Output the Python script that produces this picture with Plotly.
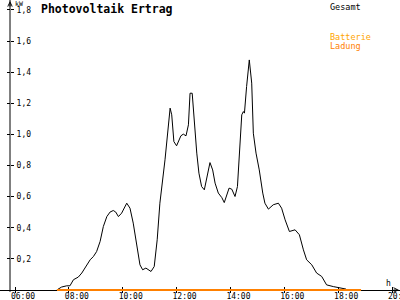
import plotly.graph_objects as go

# ---- data ----
hours = [7.55, 7.73, 7.92, 8.04, 8.17, 8.35, 8.48, 8.60, 8.79, 8.91, 9.03, 9.16, 9.28,
         9.41, 9.53, 9.65, 9.74, 9.84, 9.96, 10.15, 10.27, 10.39, 10.52, 10.64, 10.74,
         10.86, 11.05, 11.17, 11.28, 11.38, 11.57, 11.66, 11.76, 11.82, 11.90, 12.00,
         12.16, 12.25, 12.35, 12.44, 12.50, 12.58, 12.65, 12.75, 12.83, 12.93, 13.03,
         13.14, 13.24, 13.34, 13.43, 13.55, 13.68, 13.77, 13.86, 13.95, 14.05, 14.17,
         14.26, 14.33, 14.42, 14.48, 14.52, 14.60, 14.70, 14.79, 14.85, 14.95, 15.07,
         15.20, 15.28, 15.41, 15.59, 15.78, 15.90, 16.03, 16.19, 16.40, 16.56, 16.71,
         16.83, 17.02, 17.20, 17.39, 17.57, 17.82, 18.07, 18.29]
gesamt_kw = [0.00, 0.019, 0.027, 0.027, 0.066, 0.083, 0.109, 0.141, 0.194, 0.215, 0.247,
             0.312, 0.408, 0.472, 0.501, 0.511, 0.501, 0.472, 0.494, 0.558, 0.526, 0.430,
             0.280, 0.162, 0.130, 0.141, 0.119, 0.151, 0.323, 0.558, 0.837, 0.986, 1.169,
             1.126, 0.954, 0.927, 0.991, 1.002, 0.991, 1.062, 1.265, 1.265, 1.094, 0.880,
             0.751, 0.665, 0.644, 0.740, 0.819, 0.772, 0.687, 0.623, 0.594, 0.562, 0.612,
             0.655, 0.648, 0.601, 0.665, 0.858, 1.126, 1.147, 1.137, 1.308, 1.479, 1.330,
             1.008, 0.880, 0.772, 0.623, 0.558, 0.520, 0.548, 0.558, 0.526, 0.451, 0.376,
             0.387, 0.355, 0.258, 0.194, 0.162, 0.109, 0.087, 0.033, 0.022, 0.016, 0.006]
batterie_hours = [7.56, 18.85]
batterie_kw = [0.0, 0.0]

x_tickvals = [6, 8, 10, 12, 14, 16, 18, 20]
x_ticktext = ["06:00", "08:00", "10:00", "12:00", "14:00", "16:00", "18:00", "20:00"]
y_tickvals = [0.2, 0.4, 0.6, 0.8, 1.0, 1.2, 1.4, 1.6, 1.8]

title = "Photovoltaik Ertrag"
series_gesamt = "Gesamt"
series_batt = ["Batterie", "Ladung"]

# ---- layout geometry ----
W, H = 400, 300
px_per_h = 26.93
x0 = 6 - 15 / px_per_h
x1 = x0 + W / px_per_h
px_per_kw = 155.56
y1 = 290 / px_per_kw
y0 = -10 / px_per_kw
XR = [x0, x1]
YR = [y0, y1]
xpos = 10 / H
ypos = 10 / W

MONO = "DejaVu Sans Mono"

fig = go.Figure()
fig.add_trace(go.Scatter(x=hours, y=gesamt_kw, mode="lines", name=series_gesamt,
                         line=dict(color="black", width=1), showlegend=False))
fig.add_trace(go.Scatter(x=batterie_hours, y=batterie_kw, mode="lines",
                         name=" ".join(series_batt),
                         line=dict(color="#FF8000", width=2), showlegend=False))

axis_common = dict(showgrid=False, zeroline=False, automargin=False)
fig.update_layout(
    template="none",
    width=W, height=H,
    margin=dict(l=0, r=0, t=0, b=0, autoexpand=False),
    paper_bgcolor="white", plot_bgcolor="white",
    separators=",.",
    showlegend=False,
    xaxis=dict(range=XR, anchor="free", position=xpos, showline=True, linecolor="black",
               linewidth=1, tickmode="array", tickvals=x_tickvals, ticktext=x_ticktext,
               ticks="outside", ticklen=2, tickcolor="black", tickwidth=1,
               ticklabelshift=8, ticklabelstandoff=-4, ticklabeloverflow="allow",
               layer="below traces",
               tickfont=dict(family=MONO, size=8, color="black"), **axis_common),
    xaxis2=dict(range=XR, overlaying="x", anchor="free", position=xpos, side="bottom",
                tickmode="array", tickvals=x_tickvals, ticks="inside", ticklen=3,
                tickcolor="black", showticklabels=False, showline=False,
                layer="below traces", **axis_common),
    yaxis=dict(range=YR, anchor="free", position=ypos, side="right", showline=False,
               tickmode="array", tickvals=y_tickvals, tickformat=".1f",
               ticks="outside", ticklen=3, tickcolor="black", tickwidth=1,
               ticklabelstandoff=1,
               tickfont=dict(family=MONO, size=8, color="black"), **axis_common),
    yaxis2=dict(range=YR, overlaying="y", anchor="free", position=ypos, side="right",
                tickmode="array", tickvals=y_tickvals, ticks="inside", ticklen=3,
                tickcolor="black", showticklabels=False, showline=False, **axis_common),
)
# dummy trace to activate overlay axes
fig.add_trace(go.Scatter(x=[x_tickvals[0]], y=[y_tickvals[0]], xaxis="x2", yaxis="y2",
                         mode="markers", marker=dict(opacity=0), hoverinfo="skip",
                         showlegend=False))

# y axis line
fig.add_shape(type="line", xref="paper", yref="y", x0=ypos, x1=ypos, y0=-0.012, y1=YR[1],
              line=dict(color="black", width=1))

# axis arrows
fig.add_annotation(xref="paper", yref="paper", x=1, y=xpos, ax=-8, ay=0, text="",
                   showarrow=True, arrowhead=5, arrowsize=0.9, arrowwidth=1,
                   arrowcolor="black")
fig.add_annotation(xref="paper", yref="paper", x=ypos, y=1, ax=0, ay=8, text="",
                   showarrow=True, arrowhead=5, arrowsize=0.9, arrowwidth=1,
                   arrowcolor="black")

# unit labels
fig.add_annotation(xref="paper", yref="paper", x=13 / W, y=1 + 2 / H, xanchor="left",
                   yanchor="top", text="kW", showarrow=False,
                   font=dict(family=MONO, size=6.5, color="black"))
fig.add_annotation(xref="paper", yref="paper", x=388 / W, y=1 - 277 / H, xanchor="center",
                   yanchor="top", text="h", showarrow=False,
                   font=dict(family=MONO, size=8, color="black"))

# title
fig.add_annotation(xref="paper", yref="paper", x=39 / W, y=1 - 0 / H, xanchor="left",
                   yanchor="top", text="<b>" + title + "</b>", showarrow=False,
                   font=dict(family=MONO, size=11.5, color="black"))

# legend labels
fig.add_annotation(xref="paper", yref="paper", x=328 / W, y=1 - 0 / H, xanchor="left",
                   yanchor="top", text=series_gesamt, showarrow=False,
                   font=dict(family=MONO, size=8.5, color="black"))
fig.add_annotation(xref="paper", yref="paper", x=328 / W, y=1 - 30 / H, xanchor="left",
                   yanchor="top", text=series_batt[0], showarrow=False,
                   font=dict(family=MONO, size=8.5, color="#FFA500"))
fig.add_annotation(xref="paper", yref="paper", x=328 / W, y=1 - 39 / H, xanchor="left",
                   yanchor="top", text=series_batt[1], showarrow=False,
                   font=dict(family=MONO, size=8.5, color="#FF8000"))

fig.write_html("out.html")
